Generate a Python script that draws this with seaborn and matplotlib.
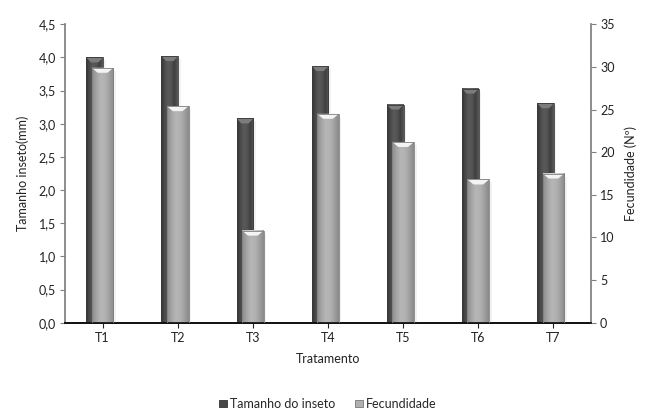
import numpy as np
import pandas as pd
import matplotlib
matplotlib.use("Agg")
import matplotlib.pyplot as plt
import seaborn as sns
from matplotlib.colors import LinearSegmentedColormap
from matplotlib.patches import Patch, Polygon, Rectangle
from matplotlib.ticker import FuncFormatter, MultipleLocator

# Data
tratamentos = ["T1", "T2", "T3", "T4", "T5", "T6", "T7"]
tamanho = [4.00, 4.02, 3.08, 3.87, 3.29, 3.53, 3.31]      # mm
fecundidade = [29.9, 25.4, 10.8, 24.5, 21.2, 16.8, 17.5]  # nº

df = pd.DataFrame({"Tratamento": tratamentos,
                   "Tamanho": tamanho,
                   "Fecundidade": fecundidade})

sns.set_theme(style="white")
plt.rcParams["font.family"] = ["Lato", "DejaVu Sans"]

W, H, DPI = 6.48, 4.17, 100
fig = plt.figure(figsize=(W, H), dpi=DPI)
ax_rect = [65 / 648, (417 - 322.7) / 417, (591 - 65) / 648, (322.7 - 24.3) / 417]
ax = fig.add_axes(ax_rect)
ax2 = ax.twinx()

dark_w, light_w, dark_off = 0.222, 0.29, -0.105

sns.barplot(data=df, x="Tratamento", y="Tamanho", ax=ax, width=dark_w,
            color="#505050", saturation=1, errorbar=None)
sns.barplot(data=df, x="Tratamento", y="Fecundidade", ax=ax2, width=light_w,
            color="#aaaaaa", saturation=1, errorbar=None)

ax.set_ylim(0, 4.5)
ax2.set_ylim(0, 35)
ax.set_xlim(-0.5, 6.5)

ax_h_px = ax_rect[3] * H * DPI
ax_w_px = ax_rect[2] * W * DPI


def style_bars(axis, patches, offset, cols, bevel_col, yrange, edge):
    cmap = LinearSegmentedColormap.from_list("bar", cols)
    grad = np.linspace(0, 1, 64).reshape(1, -1)
    d = 5.0 / ax_h_px * yrange
    sx = 2.5 / ax_w_px * 7
    for p in patches:
        p.set_x(p.get_x() + offset)
        x0, w, h = p.get_x(), p.get_width(), p.get_height()
        # soft shadow on the right
        axis.add_patch(Rectangle((x0 + w, 0), sx, h - d * 0.6,
                                 facecolor="#d4d4d4", edgecolor="none",
                                 alpha=0.3, zorder=1.5))
        axis.imshow(grad, extent=[x0, x0 + w, 0, h], aspect="auto",
                    cmap=cmap, zorder=2, interpolation="bicubic")
        p.set_facecolor("none")
        p.set_edgecolor(edge)
        p.set_linewidth(0.6)
        p.set_zorder(3)
        axis.add_patch(Polygon([(x0, h), (x0 + w, h),
                                (x0 + w * 0.72, h - d), (x0 + w * 0.28, h - d)],
                               closed=True, facecolor=bevel_col,
                               edgecolor="none", zorder=2.5))


style_bars(ax, list(ax.patches), dark_off,
           ["#333333", "#4a4a4a", "#5a5a5a", "#545454", "#3e3e3e", "#5a5a5a"],
           "#7c7c7c", 4.5, "#3a3a3a")
style_bars(ax2, list(ax2.patches), 0.0,
           ["#8c8c8c", "#a4a4a4", "#b6b6b6", "#b2b2b2", "#a0a0a0", "#8a8a8a"],
           "#f4f4f4", 35, "#808080")

ax.set_ylim(0, 4.5)
ax2.set_ylim(0, 35)
ax.set_xlim(-0.5, 6.5)

# Axes formatting
ax.yaxis.set_major_locator(MultipleLocator(0.5))
ax.yaxis.set_major_formatter(FuncFormatter(lambda v, _: f"{v:.1f}".replace(".", ",")))
ax2.yaxis.set_major_locator(MultipleLocator(5))

fs = 9
for a in (ax, ax2):
    a.tick_params(axis="both", direction="out", length=3.5, width=0.8,
                  labelsize=fs, colors="#222222", pad=3)
    for s in a.spines.values():
        s.set_visible(False)
ax.tick_params(axis="x", bottom=True, color="#222222")
ax.tick_params(axis="y", left=True, color="#808080")
ax2.tick_params(axis="y", right=True, color="#808080")
ax.spines["left"].set_visible(True)
ax.spines["left"].set_color("#808080")
ax.spines["bottom"].set_visible(True)
ax.spines["bottom"].set_color("#111111")
ax2.spines["right"].set_visible(True)
ax2.spines["right"].set_color("#808080")
ax2.spines["bottom"].set_visible(True)
ax2.spines["bottom"].set_color("#111111")

ax.set_xlabel("Tratamento", fontsize=fs, color="#222222", labelpad=7)
ax.set_ylabel("Tamanho inseto(mm)", fontsize=fs, color="#222222", labelpad=7)
ax2.set_ylabel("Fecundidade (Nº)", fontsize=fs, color="#222222", labelpad=7)
ax2.set_xlabel("")

handles = [Patch(facecolor="#474747", edgecolor="#333333", linewidth=0.6, label="Tamanho do inseto"),
           Patch(facecolor="#b0b0b0", edgecolor="#777777", linewidth=0.6, label="Fecundidade")]
fig.legend(handles=handles, loc="lower center", bbox_to_anchor=(0.506, -0.01),
           ncol=2, frameon=False, fontsize=fs, handlelength=0.6, handleheight=0.6,
           handletextpad=0.25, columnspacing=1.6)

fig.savefig("out.png", dpi=DPI)
